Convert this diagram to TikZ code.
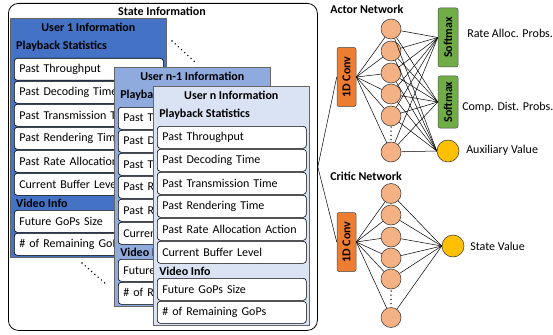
\documentclass[tikz,border=0pt]{standalone}
\usepackage{fontspec}
\setmainfont{Carlito}
\usepackage{graphicx}
\usepackage{tikz}
\usetikzlibrary{calc}
\definecolor{uone}{HTML}{4472C4}
\definecolor{utwo}{HTML}{8FAADC}
\definecolor{uthree}{HTML}{DAE3F3}
\definecolor{convc}{HTML}{ED7D31}
\definecolor{cellc}{HTML}{F4B183}
\definecolor{softc}{HTML}{70AD47}
\definecolor{goldc}{HTML}{FFC000}
\newcommand\bt[1]{\textbf{#1}}

\begin{document}
\fontsize{12}{14}\selectfont
\begin{tikzpicture}[x=1pt,y=-1pt,line width=0.5pt,
 panel/.style={draw=black!60,fill=#1,line width=0.6pt,anchor=north west,minimum width=156pt,minimum height=239pt,inner sep=0pt},
 item/.style={draw,fill=white,rounded corners=3pt,anchor=north west,minimum height=22pt,text width=139pt,inner sep=5pt,align=left,line width=0.6pt},
 cell/.style={circle,draw=black!80,fill=cellc,minimum size=20pt,inner sep=0pt},
 outc/.style={circle,draw=black!80,fill=goldc,minimum size=22pt,inner sep=0pt},
 convbox/.style={draw=black!70,fill=convc,rounded corners=2pt,minimum width=19pt,minimum height=59pt,inner sep=0pt},
 smax/.style={draw=black!70,fill=softc,rounded corners=2pt,minimum width=20pt,inner sep=0pt},
 outlabel/.style={anchor=west,inner sep=2pt},
 dotline/.style={line width=1.6pt,line cap=round,dash pattern=on 0pt off 4.3pt},
 vdot/.style={line width=1.5pt,line cap=round,dash pattern=on 0pt off 4.2pt}]
\useasboundingbox (0,0) rectangle (553,334);

\node[draw,rounded corners=10pt,anchor=north west,minimum width=309pt,minimum height=327pt,line width=0.8pt] (state) at (8,3) {};
\node (st) at (162,11) {\bt{State Information}};

\foreach \px/\py/\c/\u [count=\k] in {10/18/uone/1,114/67/utwo/n-1,153/86/uthree/n} {
 \node[panel=\c] (p\k) at (\px,\py) {};
 \node (t\k) at ($(p\k.north)+(0,9)$) {\bt{User \u\ Information}};
 \node[anchor=west] (pb\k) at ($(p\k.north west)+(2,28)$) {\bt{Playback Statistics}};
 \foreach \s [count=\j] in {Past Throughput,Past Decoding Time,Past Transmission Time,Past Rendering Time,Past Rate Allocation Action,Current Buffer Level}
  \node[item] (p\k-\j) at ($(p\k.north west)+(4,17+23*\j)$) {\s};
 \node[anchor=west] (vi\k) at ($(p\k.north west)+(2,185)$) {\bt{Video Info}};
 \node[item] (p\k-7) at ($(p\k.north west)+(4,192)$) {Future GoPs Size};
 \node[item] (p\k-8) at ($(p\k.north west)+(4,215)$) {\# of Remaining GoPs};
}
\coordinate (d1) at (172,41);
\coordinate (d2) at (195,62);
\coordinate (d3) at (82,263);
\coordinate (d4) at (107,285);
\draw[dotline] (d1) -- (d2);
\draw[dotline] (d3) -- (d4);

\node[anchor=west] (an) at (326,9) {\bt{Actor Network}};
\node[convbox] (ac) at (346.5,77) {\rotatebox{90}{\bt{1D Conv}}};
\foreach \y [count=\i] in {29,51,73,94,116,152}
 \node[cell] (a\i) at (391,\y) {};
\coordinate (ad1) at (391,127);
\coordinate (ad2) at (391,141);
\draw[vdot] (ad1) -- (ad2);
\node[smax,minimum height=59pt] (s1) at (448,37.5) {\rotatebox{90}{\bt{Softmax}}};
\node[smax,minimum height=52pt] (s2) at (448,102) {\rotatebox{90}{\bt{Softmax}}};
\node[outc] (aux) at (448,151) {};
\node[outlabel] (l1) at (465,33) {Rate Alloc. Probs.};
\node[outlabel] (l2) at (460,107) {Comp. Dist. Probs.};
\node[outlabel] (l3) at (464,150) {Auxiliary Value};
\foreach \i in {1,...,6} {
 \draw (ac.east) -- (a\i);
 \draw (a\i) -- (s1.west);
 \draw (a\i) -- (s2.west);
 \draw (a\i) -- (aux.west);
}

\node[anchor=west] (cn) at (326,176) {\bt{Critic Network}};
\node[convbox] (cc) at (346.5,242) {\rotatebox{90}{\bt{1D Conv}}};
\foreach \y [count=\i] in {193.5,215,237,258,279,317.5}
 \node[cell] (c\i) at (391,\y) {};
\coordinate (cd1) at (391,291);
\coordinate (cd2) at (391,305);
\draw[vdot] (cd1) -- (cd2);
\node[outc] (sv) at (453,246) {};
\node[outlabel] (l4) at (468,246) {State Value};
\foreach \i in {1,...,6} {
 \draw (cc.east) -- (c\i);
 \draw (c\i) -- (sv.west);
}

\draw (state.east) -- (ac.west);
\draw (state.east) -- (cc.west);
\end{tikzpicture}
\end{document}
